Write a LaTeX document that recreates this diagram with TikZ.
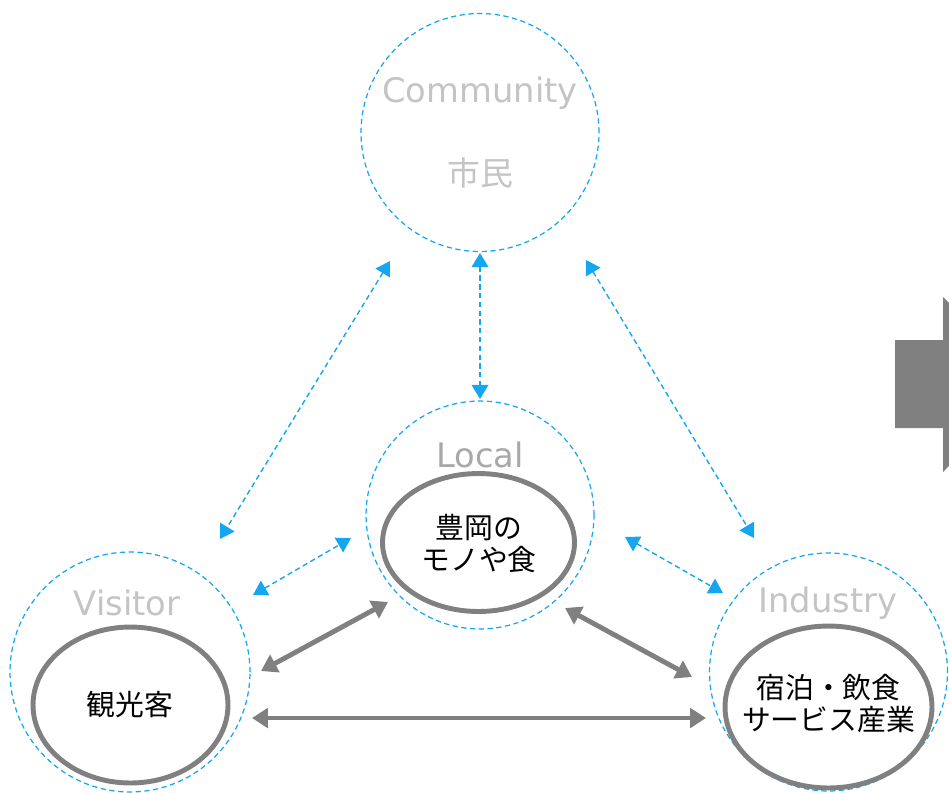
\documentclass[tikz,border=0pt]{standalone}
\usepackage{fontspec}
\setmainfont{DejaVu Sans}
\newfontfamily\jp{Noto Sans CJK JP}
\usetikzlibrary{arrows.meta,shapes.geometric}
\definecolor{dblue}{RGB}{20,166,238}
\definecolor{lgray}{RGB}{196,196,196}
\definecolor{mgray}{RGB}{168,168,168}
\definecolor{agray}{RGB}{128,128,128}
\begin{document}
\begin{tikzpicture}[x=0.02cm,y=-0.02cm,
  dcirc/.style={circle,draw=dblue,line width=0.7pt,dash pattern=on 3pt off 2pt,inner sep=0pt},
  gell/.style={ellipse,draw=agray,line width=2.8pt,inner sep=0pt},
  lab/.style={font=\fontsize{19.2}{23}\selectfont,text=lgray,inner sep=0pt},
  jtext/.style={font=\jp\fontsize{16.4}{18.7}\selectfont,align=center,inner sep=0pt},
  barrow/.style={draw=dblue,line width=0.8pt,dash pattern=on 3pt off 2pt,
     {Triangle[length=8pt,width=9.5pt]}-{Triangle[length=8pt,width=9.5pt]}},
  garrow/.style={draw=agray,line width=2.8pt,
     {Triangle[length=9pt,width=11pt]}-{Triangle[length=9pt,width=11pt]}}]
\clip (0,0) rectangle (949,792);
% outer dashed circles
\node[dcirc,minimum size=4.76cm] (com) at (480,132.5) {};
\node[dcirc,minimum size=4.56cm] (loc) at (480,515) {};
\node[dcirc,minimum size=4.80cm] (vis) at (130,672) {};
\node[dcirc,minimum size=4.76cm] (ind) at (828.5,672) {};
% inner ellipses
\node[gell,minimum width=3.84cm,minimum height=2.76cm] (locE) at (478.5,542.5) {};
\node[gell,minimum width=3.90cm,minimum height=3.12cm] (visE) at (130.5,705) {};
\node[gell,minimum width=4.14cm,minimum height=3.24cm] (indE) at (828.5,707) {};
% labels
\node[lab] (comL) at (480,93) {Community};
\node[lab,font=\jp\fontsize{18.7}{22}\selectfont] (comJ) at (480,173) {市民};
\node[lab,text=mgray] (locL) at (480,455) {Local};
\node[lab] (visL) at (127,603) {Visitor};
\node[lab] (indL) at (828,603) {Industry};
\node[jtext] (locT) at (479,543.5) {豊岡の\\モノや食};
\node[jtext] (visT) at (130,705) {観光客};
\node[jtext] (indT) at (828.5,703.5) {宿泊・飲食\\サービス産業};
% arrow end points
\coordinate (b1a) at (390,261); \coordinate (b1b) at (220,539);
\coordinate (b2a) at (480,253); \coordinate (b2b) at (480,399);
\coordinate (b3a) at (586,260); \coordinate (b3b) at (754,538);
\coordinate (b4a) at (253,595); \coordinate (b4b) at (351,538);
\coordinate (b5a) at (625,537); \coordinate (b5b) at (723,593);
\coordinate (g1a) at (261,671); \coordinate (g1b) at (388,602);
\coordinate (g2a) at (565,608); \coordinate (g2b) at (692,677);
\coordinate (g3a) at (252,718); \coordinate (g3b) at (706,718);
\draw[barrow] (b1a) -- (b1b);
\draw[barrow] (b2a) -- (b2b);
\draw[barrow] (b3a) -- (b3b);
\draw[barrow] (b4a) -- (b4b);
\draw[barrow] (b5a) -- (b5b);
\draw[garrow] (g1a) -- (g1b);
\draw[garrow] (g2a) -- (g2b);
\draw[garrow] (g3a) -- (g3b);
% block arrow at right edge
\fill[agray] (895,340) -- (943,340) -- (943,297) -- (1030,384) -- (943,472) -- (943,428) -- (895,428) -- cycle;
\end{tikzpicture}
\end{document}
